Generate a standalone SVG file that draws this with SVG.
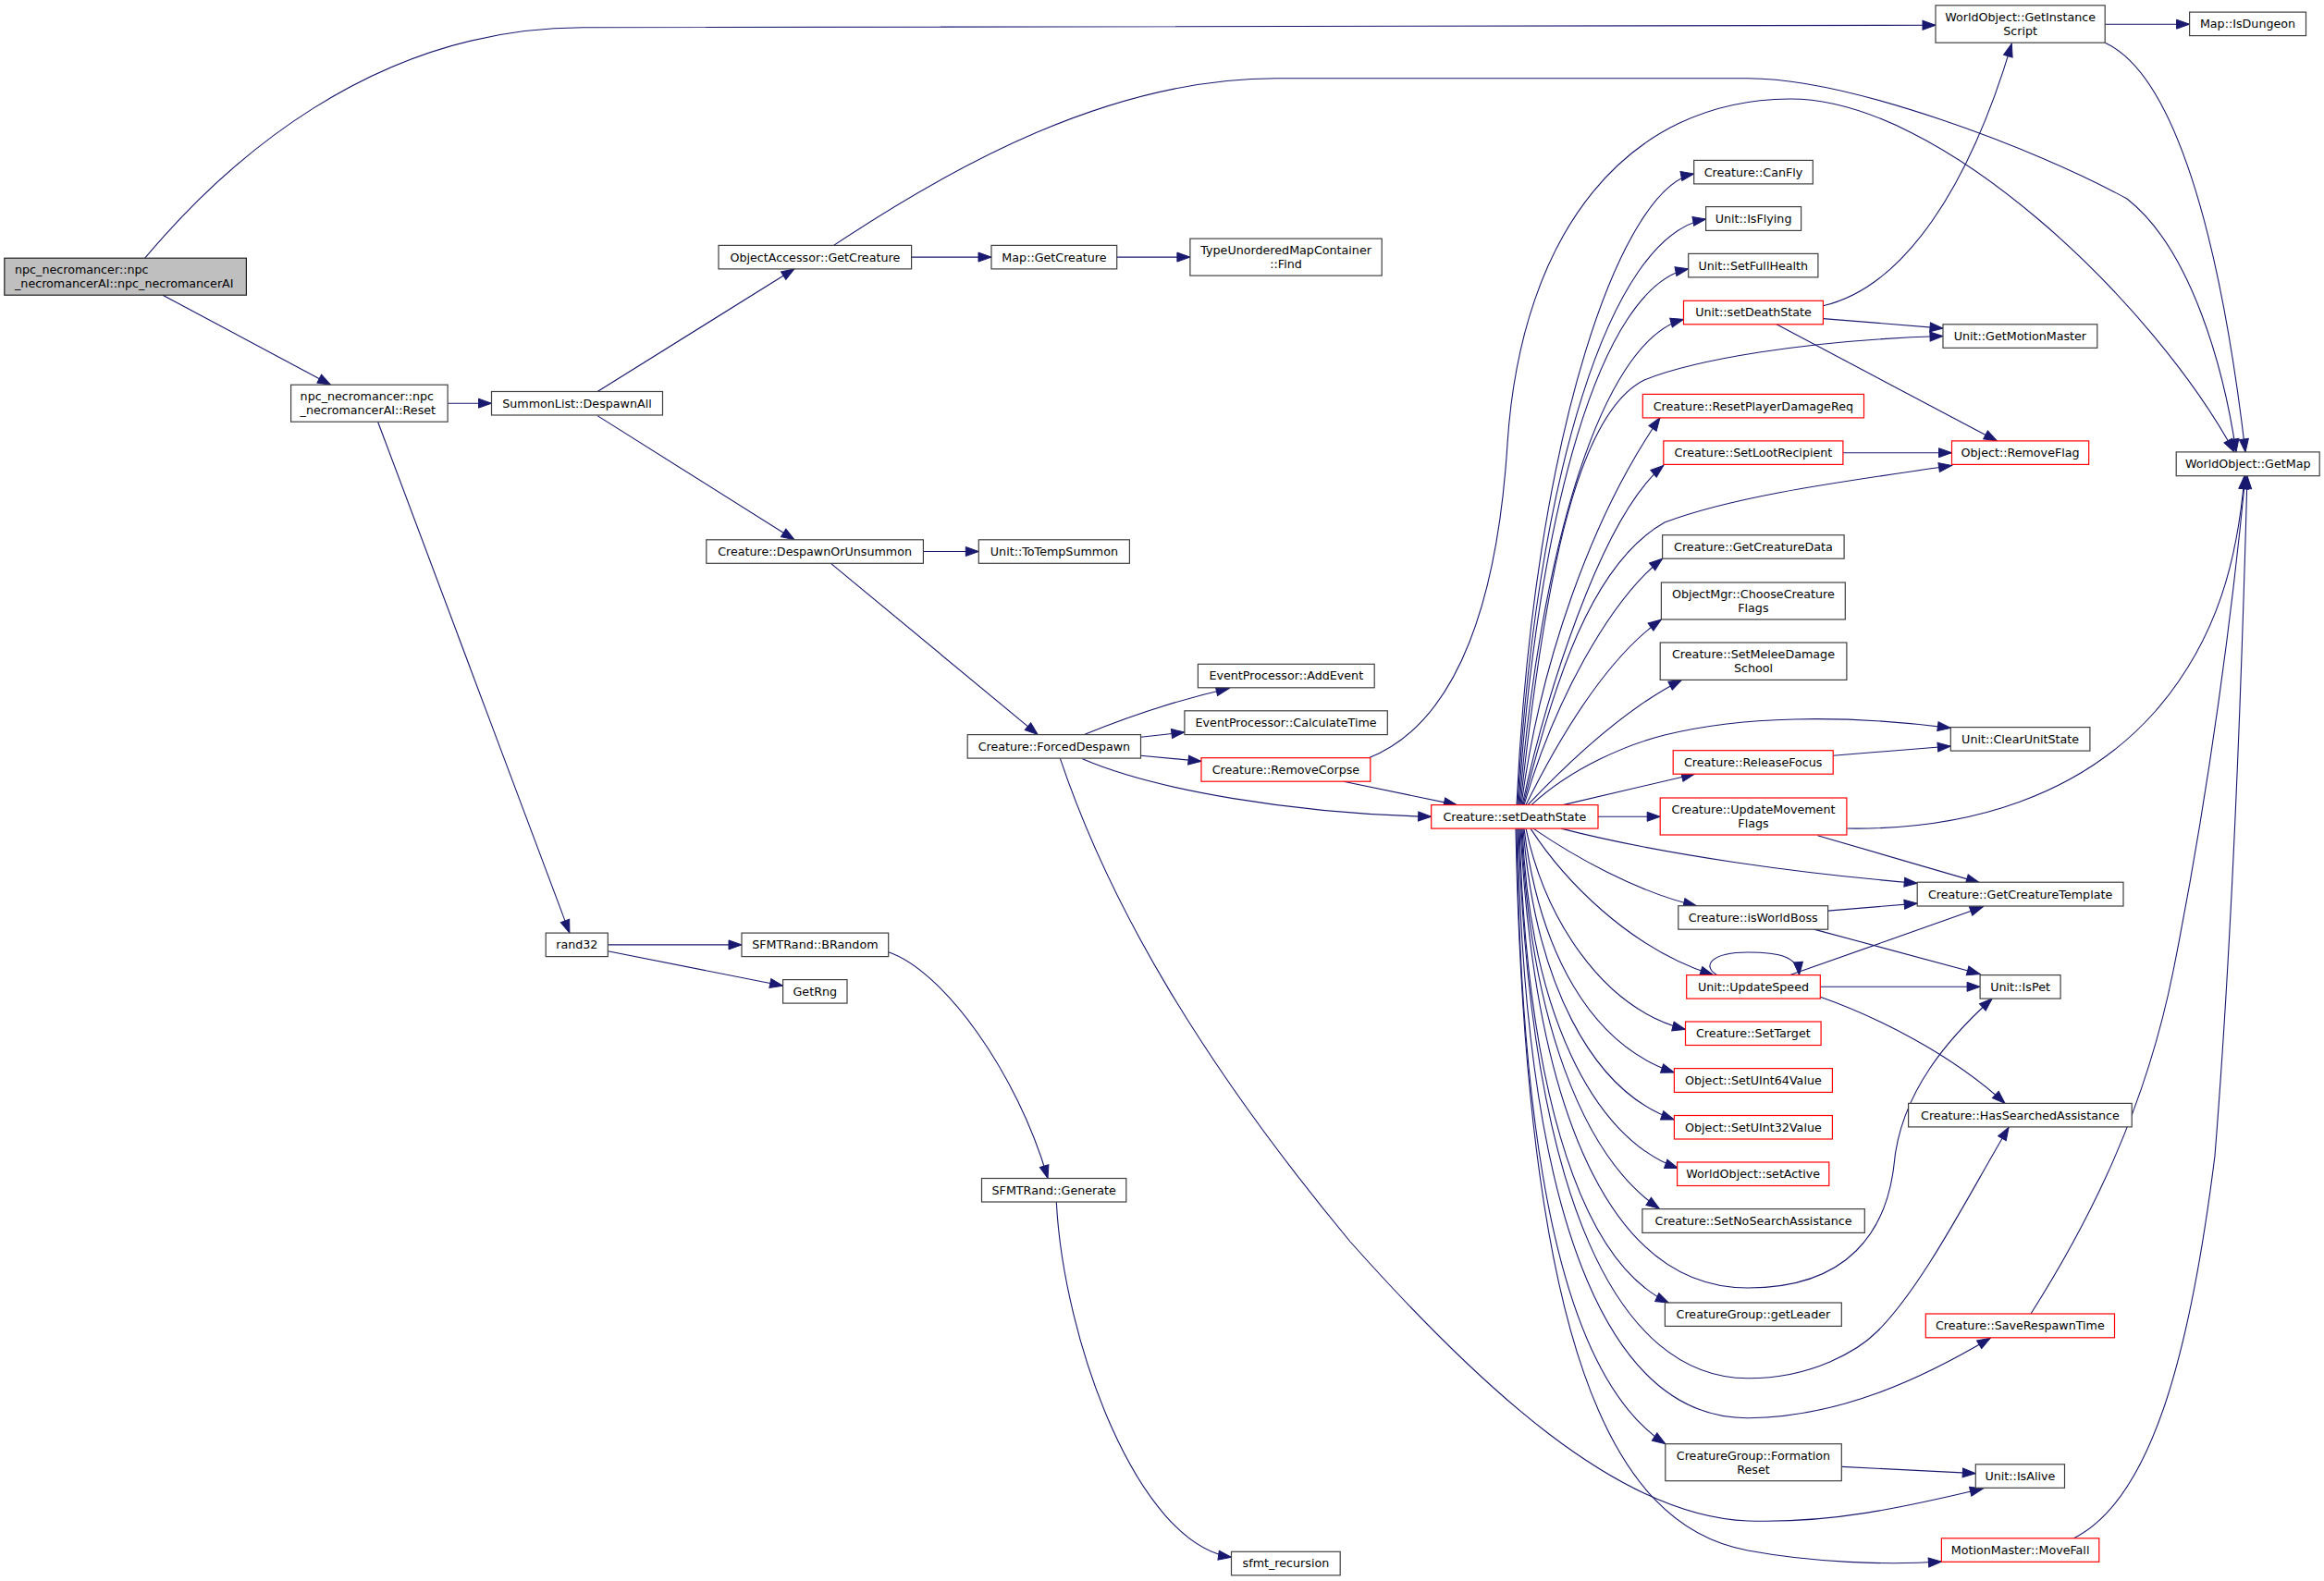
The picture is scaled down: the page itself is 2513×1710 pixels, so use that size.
<svg xmlns="http://www.w3.org/2000/svg" width="2513" height="1710" viewBox="0 0 2513 1710">
<style>
.n rect{fill:#ffffff;stroke:#404040;stroke-width:1.2}
.n.r rect{stroke:#ff0000}
.n.g rect{fill:#bfbfbf;stroke:#202020}
text{font-family:"DejaVu Sans","Liberation Sans",sans-serif;font-size:12.7px;fill:#000000}
.n text{text-anchor:middle}
.n text.l{text-anchor:start}
#edges path{fill:none;stroke:#191970;stroke-width:1.1;marker-end:url(#a)}
</style>
<defs>
<marker id="a" markerUnits="userSpaceOnUse" markerWidth="14" markerHeight="10" refX="14" refY="5" orient="auto" overflow="visible">
<path d="M0,0 L14,5 L0,10 Z" fill="#191970" stroke="#191970" stroke-width="1"/>
</marker>
</defs>
<rect x="0" y="0" width="2513" height="1710" fill="#ffffff"/>
<g id="edges">
<path d="M156.7,279.2 C240,180 400,30 630,29.8 L2093,27.3"/>
<path d="M176,319.2 L357.6,416.2"/>
<path d="M484.1,436.2 L531.5,436.2"/>
<path d="M408.6,456.2 L615.9,1009.1"/>
<path d="M646.1,423.5 L859,290.8"/>
<path d="M646,449.6 L859,583.8"/>
<path d="M985.6,278.1 L1072,278.1"/>
<path d="M1207.7,278.1 L1286.9,278.1"/>
<path d="M901.6,265.4 C1030,180 1200,84.7 1380,84.7 L1890,84.7 C2000,84.7 2200,160 2300,215 C2370,270 2405,400 2418,488.9"/>
<path d="M998.4,596.5 L1058.3,596.5"/>
<path d="M898.4,609.3 L1122.2,794.6"/>
<path d="M1172.4,794.6 C1220,775 1270,758 1329.1,744.5"/>
<path d="M1233.5,797.2 L1280.9,792"/>
<path d="M1233.5,817.2 L1299,823.4"/>
<path d="M1170.4,820.8 C1250,855 1400,880 1547.7,883.3"/>
<path d="M1146.3,820.1 C1200,980 1300,1150 1460,1343 C1600,1500 1750,1640 1890,1645 C1980,1648 2060,1630 2144.3,1610"/>
<path d="M1452.9,845.2 L1575.4,870.6"/>
<path d="M1480.2,819.7 C1580,780 1620,640 1630,480 C1645,250 1760,108 1935,107 C2100,106 2330,330 2416,488.9"/>
<path d="M657.3,1021.9 L802,1021.9"/>
<path d="M657.3,1028.7 L846.6,1066.2"/>
<path d="M960.7,1029.8 C1020,1050 1100,1160 1133,1274.5"/>
<path d="M1142.3,1300 C1150,1450 1230,1670 1331.5,1684.2"/>
<path d="M2276.2,26.2 L2367.6,26.2"/>
<path d="M2276.2,46.2 C2350,80 2400,250 2428,488.9"/>
<path d="M1640,870.6 C1659,461 1755,202 1831.7,188"/>
<path d="M1641,870.6 C1660,520 1740,255 1844.6,237"/>
<path d="M1642,870.6 C1662,560 1730,310 1825.7,290.8"/>
<path d="M1643,870.6 C1665,600 1730,370 1820.5,345.3"/>
<path d="M1644,870.6 C1668,650 1700,450 1778,411 C1830,390 1950,368 2101,363.5"/>
<path d="M1645,870.6 C1665,720 1720,560 1795,451.8"/>
<path d="M1646,870.6 C1670,760 1730,560 1798.8,503.5"/>
<path d="M1647,870.6 C1680,740 1720,610 1800,565 C1880,535 2000,520 2110.5,503.5"/>
<path d="M1648,870.6 C1680,760 1740,650 1797.6,604.2"/>
<path d="M1650,870.6 C1690,790 1740,710 1796.4,670"/>
<path d="M1652,870.6 C1700,820 1760,765 1818.5,735.4"/>
<path d="M1656,870.6 C1700,830 1760,805 1800,795 C1880,775 1990,772 2109.3,787.4"/>
<path d="M1690,870.6 L1832.5,837.2"/>
<path d="M1728,883.3 L1795.2,883.3"/>
<path d="M1688,896.1 C1800,925 1950,945 2073.2,955.3"/>
<path d="M1658,896.1 C1700,925 1770,965 1834.5,979.7"/>
<path d="M1655,896.1 C1690,950 1760,1025 1852.6,1054.6"/>
<path d="M1650,896.1 C1670,990 1730,1090 1822.5,1113.4"/>
<path d="M1648,896.1 C1665,1030 1720,1130 1810.4,1160"/>
<path d="M1647,896.1 C1660,1060 1720,1180 1810.4,1210.9"/>
<path d="M1646,896.1 C1655,1090 1720,1230 1814.4,1263.6"/>
<path d="M1645,896.1 C1655,1100 1710,1250 1794.3,1307.2"/>
<path d="M1644,896.1 C1660,1200 1740,1393 1890,1393 C2000,1393 2040,1330 2048,1260 C2055,1180 2110,1120 2154.2,1080"/>
<path d="M1643,896.1 C1650,1150 1700,1360 1804.4,1409"/>
<path d="M1642,896.1 C1655,1300 1750,1490 1890,1490.8 C1960,1491 2010,1460 2030,1440 C2080,1390 2130,1290 2172.1,1219.2"/>
<path d="M1641,896.1 C1650,1350 1750,1534 1890,1533.7 C1990,1533 2080,1490 2152.2,1447.2"/>
<path d="M1640,896.1 C1645,1250 1690,1490 1800.8,1561.7"/>
<path d="M1639,896.1 C1650,1450 1740,1650 1890,1677 C1960,1690 2040,1693 2099.4,1689"/>
<path d="M1971.4,330.8 C2060,310 2130,200 2175.3,47.3"/>
<path d="M1971.4,344.6 L2101,355.1"/>
<path d="M1921,350.8 L2159.4,476.9"/>
<path d="M1992.9,489.7 L2110.5,489.7"/>
<path d="M1982.2,817.2 L2109.3,807"/>
<path d="M1965.5,903.7 L2140.3,954.6"/>
<path d="M1997.3,896 C2130,898 2250,860 2330,770 C2400,690 2420,600 2427,514.7"/>
<path d="M1976.6,985.1 L2073.2,977.1"/>
<path d="M1961.5,1005.1 L2141.1,1053.5"/>
<path d="M1935.7,1054.6 L2144.3,980.8"/>
<path d="M1968.3,1067.3 L2141.1,1067.3"/>
<path d="M1856.6,1054.6 C1840,1045 1850,1030 1890,1030 C1925,1030 1944,1035 1945.6,1054.6"/>
<path d="M1968.3,1078.2 C2030,1100 2110,1140 2168.1,1193.4"/>
<path d="M1991.3,1586.4 L2136.3,1593.6"/>
<path d="M2196,1421 C2260,1320 2320,1200 2350,1050 C2390,850 2415,650 2428,514.7"/>
<path d="M2242.4,1663.8 C2330,1620 2370,1450 2395,1250 C2415,1000 2425,700 2430,514.7"/>
</g>
<g id="node-root" class="n g"><rect x="4.8" y="279.2" width="261.6" height="40"/><text class="l" x="16" y="296.1">npc_necromancer::npc</text><text class="l" x="16" y="311">_necromancerAI::npc_necromancerAI</text></g>
<g id="node-reset" class="n"><rect x="314.6" y="416.2" width="169.5" height="40"/><text class="l" x="324.6" y="433.2">npc_necromancer::npc</text><text class="l" x="324.6" y="448.1">_necromancerAI::Reset</text></g>
<g id="node-despawnall" class="n"><rect x="531.5" y="423.5" width="185" height="25.5"/><text x="624" y="440.6">SummonList::DespawnAll</text></g>
<g id="node-oa-getcreature" class="n"><rect x="777" y="265.4" width="208.6" height="25.5"/><text x="881.3" y="282.5">ObjectAccessor::GetCreature</text></g>
<g id="node-map-getcreature" class="n"><rect x="1072" y="265.4" width="135.7" height="25.5"/><text x="1139.9" y="282.5">Map::GetCreature</text></g>
<g id="node-find" class="n"><rect x="1286.9" y="258.1" width="207.3" height="40"/><text x="1390.6" y="275.1">TypeUnorderedMapContainer</text><text x="1390.6" y="290">::Find</text></g>
<g id="node-getinstancescript" class="n"><rect x="2093" y="5.8" width="183.2" height="40.4"/><text x="2184.6" y="23">WorldObject::GetInstance</text><text x="2184.6" y="37.9">Script</text></g>
<g id="node-isdungeon" class="n"><rect x="2367.6" y="13.1" width="125.9" height="25.5"/><text x="2430.5" y="30.2">Map::IsDungeon</text></g>
<g id="node-getmap" class="n"><rect x="2353.2" y="488.9" width="155" height="25.8"/><text x="2430.7" y="506.1">WorldObject::GetMap</text></g>
<g id="node-despawnorunsummon" class="n"><rect x="763.8" y="583.8" width="234.6" height="25.5"/><text x="881.1" y="600.9">Creature::DespawnOrUnsummon</text></g>
<g id="node-totempsummon" class="n"><rect x="1058.3" y="583.8" width="163.1" height="25.5"/><text x="1139.9" y="600.9">Unit::ToTempSummon</text></g>
<g id="node-forceddespawn" class="n"><rect x="1046.2" y="794.6" width="187.3" height="25.5"/><text x="1139.9" y="811.7">Creature::ForcedDespawn</text></g>
<g id="node-addevent" class="n"><rect x="1295.4" y="718.3" width="190.8" height="25.5"/><text x="1390.8" y="735.4">EventProcessor::AddEvent</text></g>
<g id="node-calculatetime" class="n"><rect x="1280.9" y="768.8" width="219.4" height="25.8"/><text x="1390.6" y="786">EventProcessor::CalculateTime</text></g>
<g id="node-removecorpse" class="n r"><rect x="1299" y="819.7" width="182.8" height="25.5"/><text x="1390.4" y="836.8">Creature::RemoveCorpse</text></g>
<g id="node-c-setdeathstate" class="n r"><rect x="1547.7" y="870.6" width="180.3" height="25.5"/><text x="1637.9" y="887.7">Creature::setDeathState</text></g>
<g id="node-rand32" class="n"><rect x="590.2" y="1009.1" width="67.1" height="25.5"/><text x="623.8" y="1026.2">rand32</text></g>
<g id="node-brandom" class="n"><rect x="802" y="1009.1" width="158.7" height="25.5"/><text x="881.4" y="1026.2">SFMTRand::BRandom</text></g>
<g id="node-getrng" class="n"><rect x="846.6" y="1059.6" width="69.4" height="25.5"/><text x="881.3" y="1076.7">GetRng</text></g>
<g id="node-generate" class="n"><rect x="1061.5" y="1274.5" width="156.3" height="25.5"/><text x="1139.7" y="1291.6">SFMTRand::Generate</text></g>
<g id="node-sfmt-recursion" class="n"><rect x="1331.5" y="1678.3" width="117.7" height="25.5"/><text x="1390.4" y="1695.4">sfmt_recursion</text></g>
<g id="node-canfly" class="n"><rect x="1831.7" y="173.4" width="128.6" height="25.5"/><text x="1896" y="190.5">Creature::CanFly</text></g>
<g id="node-isflying" class="n"><rect x="1844.6" y="223.6" width="103" height="25.8"/><text x="1896.1" y="240.9">Unit::IsFlying</text></g>
<g id="node-setfullhealth" class="n"><rect x="1825.7" y="274.4" width="140.2" height="25.5"/><text x="1895.8" y="291.5">Unit::SetFullHealth</text></g>
<g id="node-u-setdeathstate" class="n r"><rect x="1820.5" y="325.3" width="150.9" height="25.5"/><text x="1896" y="342.4">Unit::setDeathState</text></g>
<g id="node-getmotionmaster" class="n"><rect x="2101" y="350.8" width="166.8" height="25.5"/><text x="2184.4" y="367.9">Unit::GetMotionMaster</text></g>
<g id="node-resetplayerdamagereq" class="n r"><rect x="1776.3" y="426.4" width="239.2" height="25.5"/><text x="1895.9" y="443.5">Creature::ResetPlayerDamageReq</text></g>
<g id="node-setlootrecipient" class="n r"><rect x="1798.8" y="476.9" width="194.1" height="25.5"/><text x="1895.9" y="494">Creature::SetLootRecipient</text></g>
<g id="node-removeflag" class="n r"><rect x="2110.5" y="476.9" width="148.2" height="25.5"/><text x="2184.6" y="494">Object::RemoveFlag</text></g>
<g id="node-getcreaturedata" class="n"><rect x="1797.6" y="578.7" width="196.5" height="25.5"/><text x="1895.9" y="595.8">Creature::GetCreatureData</text></g>
<g id="node-choosecreatureflags" class="n"><rect x="1796.4" y="630" width="198.9" height="40"/><text x="1895.9" y="647">ObjectMgr::ChooseCreature</text><text x="1895.9" y="661.9">Flags</text></g>
<g id="node-setmeleedamageschool" class="n"><rect x="1795.2" y="695" width="201.7" height="40.4"/><text x="1896" y="712.2">Creature::SetMeleeDamage</text><text x="1896" y="727.1">School</text></g>
<g id="node-clearunitstate" class="n"><rect x="2109.3" y="786.6" width="150.6" height="25.5"/><text x="2184.6" y="803.7">Unit::ClearUnitState</text></g>
<g id="node-releasefocus" class="n r"><rect x="1809.2" y="811.7" width="173" height="25.5"/><text x="1895.7" y="828.8">Creature::ReleaseFocus</text></g>
<g id="node-updatemovementflags" class="n r"><rect x="1795.2" y="863" width="201.7" height="40"/><text x="1896" y="880">Creature::UpdateMovement</text><text x="1896" y="894.9">Flags</text></g>
<g id="node-getcreaturetemplate" class="n"><rect x="2073.2" y="954.2" width="222.8" height="25.8"/><text x="2184.6" y="971.5">Creature::GetCreatureTemplate</text></g>
<g id="node-isworldboss" class="n"><rect x="1814.8" y="979.7" width="161.8" height="25.5"/><text x="1895.7" y="996.8">Creature::isWorldBoss</text></g>
<g id="node-updatespeed" class="n r"><rect x="1823.7" y="1054.6" width="144.6" height="25.5"/><text x="1896" y="1071.7">Unit::UpdateSpeed</text></g>
<g id="node-ispet" class="n"><rect x="2141.1" y="1054.6" width="87" height="25.5"/><text x="2184.6" y="1071.7">Unit::IsPet</text></g>
<g id="node-settarget" class="n r"><rect x="1822.5" y="1105" width="146.6" height="25.5"/><text x="1895.8" y="1122.1">Creature::SetTarget</text></g>
<g id="node-setuint64value" class="n r"><rect x="1810.4" y="1155.6" width="171" height="25.8"/><text x="1895.9" y="1172.9">Object::SetUInt64Value</text></g>
<g id="node-setuint32value" class="n r"><rect x="1810.4" y="1206.5" width="171" height="25.5"/><text x="1895.9" y="1223.6">Object::SetUInt32Value</text></g>
<g id="node-setactive" class="n r"><rect x="1813.6" y="1257" width="164.2" height="25.5"/><text x="1895.7" y="1274.1">WorldObject::setActive</text></g>
<g id="node-setnosearchassistance" class="n"><rect x="1775.9" y="1307.6" width="240.4" height="25.8"/><text x="1896.1" y="1324.9">Creature::SetNoSearchAssistance</text></g>
<g id="node-hassearchedassistance" class="n"><rect x="2063.6" y="1193.4" width="241.6" height="25.5"/><text x="2184.4" y="1210.5">Creature::HasSearchedAssistance</text></g>
<g id="node-getleader" class="n"><rect x="1800.4" y="1409" width="190.9" height="25.4"/><text x="1895.9" y="1426.1">CreatureGroup::getLeader</text></g>
<g id="node-saverespawntime" class="n r"><rect x="2082.3" y="1421" width="204.2" height="25.8"/><text x="2184.4" y="1438.3">Creature::SaveRespawnTime</text></g>
<g id="node-formationreset" class="n"><rect x="1800.8" y="1561.7" width="190.5" height="40"/><text x="1896" y="1578.7">CreatureGroup::Formation</text><text x="1896" y="1593.6">Reset</text></g>
<g id="node-isalive" class="n"><rect x="2136.3" y="1583.8" width="96.2" height="25.5"/><text x="2184.4" y="1600.9">Unit::IsAlive</text></g>
<g id="node-movefall" class="n r"><rect x="2099.4" y="1663.8" width="170.4" height="25.5"/><text x="2184.6" y="1680.9">MotionMaster::MoveFall</text></g>
</svg>
